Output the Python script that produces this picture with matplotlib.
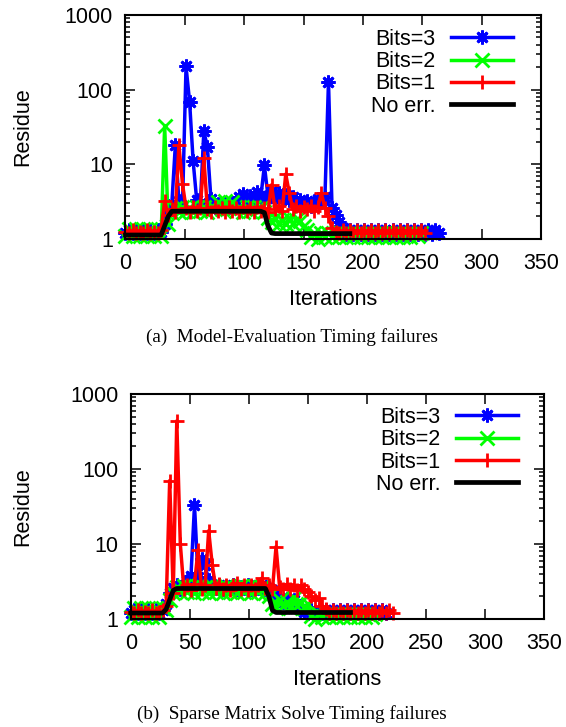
import numpy as np
import matplotlib.pyplot as plt
from matplotlib.ticker import FixedLocator, LogLocator, NullFormatter

plt.rcParams['font.family'] = ['Liberation Sans', 'DejaVu Sans']

# residue logged every `step` iterations
step = 3

labels = ['Bits=3', 'Bits=2', 'Bits=1', 'No err.']
colors = ['#0000ff', '#00ff00', '#ff0000', '#000000']
markers = [(8, 2, 0), 'x', '+', None]

x_ticks = [0, 50, 100, 150, 200, 250, 300, 350]
y_ticks = [1, 10, 100, 1000]
y_tick_labels = ['1', '10', '100', '1000']

# (a) Model-Evaluation timing failures
a_bits3 = [1.2, 1.3, 1.2, 1.3, 1.2, 1.3, 1.2, 1.3, 1.2, 1.3, 1.25,
           1.6, 2.4, 2.9, 18, 3.2, 2.7, 205, 69, 11, 3.3,
           2.8, 28, 17, 3.4, 2.7, 2.9, 2.6, 3.0, 2.7, 2.9,
           3.2, 3.6, 4.0, 3.3, 3.8, 3.5, 4.2, 3.6, 9.7, 3.8,
           4.4, 3.5, 4.1, 3.4, 3.9, 3.3, 3.7, 3.0, 3.3, 2.9,
           3.2, 2.8, 3.0, 3.4, 3.1, 3.6, 128, 2.6, 2.1, 1.7,
           1.4, 1.15, 1.3, 1.15, 1.3, 1.15, 1.3, 1.15, 1.3, 1.15,
           1.3, 1.15, 1.3, 1.15, 1.3, 1.15, 1.3, 1.15, 1.3, 1.15,
           1.3, 1.15, 1.3, 1.15, 1.3, 1.15, 1.3, 1.2]
a_bits2 = [1.1, 1.35, 1.1, 1.35, 1.1, 1.35, 1.1, 1.35, 1.1, 1.35, 1.1,
           32.6, 1.6, 2.2, 2.6, 2.3, 2.7, 2.4, 2.6, 2.3, 2.7,
           2.4, 2.7, 2.3, 2.7, 2.5, 3.1, 2.5, 3.2, 2.6, 3.1,
           2.4, 2.7, 2.3, 2.7, 2.4, 2.7, 2.5, 2.6, 2.3, 1.9,
           1.7, 1.9, 1.6, 1.8, 1.6, 1.9, 1.6, 1.8, 1.75, 1.5,
           1.3, 1.05, 1.2, 1.0, 1.2, 1.05, 1.2, 1.05, 1.2, 1.05,
           1.2, 1.05, 1.2, 1.05, 1.2, 1.05, 1.2, 1.05, 1.2, 1.05,
           1.2, 1.05, 1.2, 1.05, 1.2, 1.05, 1.2, 1.05, 1.2, 1.05,
           1.2, 1.1, 1.2]
a_bits1 = [1.25, 1.2, 1.3, 1.2, 1.25, 1.2, 1.3, 1.2, 1.25, 1.2, 1.3,
           3.2, 2.1, 2.5, 2.3, 18, 5.5, 2.6, 2.3, 2.7, 2.4,
           2.6, 12, 2.5, 2.3, 2.7, 2.4, 2.6, 2.3, 2.7, 2.4,
           2.6, 2.3, 2.7, 2.4, 2.6, 2.3, 2.7, 2.4, 2.6, 2.3,
           5.3, 2.5, 2.8, 2.4, 7.4, 4.1, 2.5, 2.8, 2.4, 2.7,
           2.5, 2.8, 2.4, 2.7, 4.1, 2.6, 2.0, 1.4, 1.25, 1.2,
           1.3, 1.2, 1.3, 1.2, 1.3, 1.2, 1.3, 1.2, 1.3, 1.2,
           1.3, 1.2, 1.3, 1.2, 1.3, 1.2, 1.3, 1.2, 1.3, 1.2,
           1.3, 1.2, 1.3, 1.2]
a_noerr = [1.13, 1.13, 1.13, 1.13, 1.13, 1.13, 1.13, 1.13, 1.13, 1.13, 1.13,
           1.5, 2.0, 2.35, 2.35, 2.35, 2.35, 2.35, 2.35, 2.35, 2.35,
           2.35, 2.35, 2.35, 2.35, 2.35, 2.35, 2.35, 2.35, 2.35, 2.35,
           2.35, 2.35, 2.35, 2.35, 2.35, 2.35, 2.35, 2.35, 2.25, 1.5,
           1.2, 1.18, 1.18, 1.18, 1.18, 1.18, 1.18, 1.18, 1.18, 1.18,
           1.18, 1.18, 1.18, 1.18, 1.18, 1.18, 1.18, 1.18, 1.18, 1.18,
           1.18, 1.18, 1.18]

# (b) Sparse Matrix Solve timing failures
b_bits3 = [1.2, 1.3, 1.2, 1.3, 1.2, 1.3, 1.2, 1.3, 1.2, 1.3,
           1.6, 2.2, 2.6, 2.8, 2.5, 2.7, 3.2, 3.7, 33, 3.6,
           6.4, 5.2, 3.3, 2.7, 2.6, 2.8, 2.5, 2.7, 2.6, 2.8,
           2.5, 2.7, 2.6, 2.8, 2.5, 2.7, 2.6, 2.8, 2.5, 2.6,
           2.4, 2.1, 1.9, 1.7, 1.85, 1.6, 1.8, 1.5, 1.35, 1.25,
           1.2, 1.3, 1.2, 1.3, 1.2, 1.3, 1.2, 1.3, 1.2, 1.3,
           1.2, 1.3, 1.2, 1.3, 1.2, 1.3, 1.2, 1.3, 1.2, 1.3,
           1.2, 1.3, 1.2]
b_bits2 = [1.05, 1.4, 1.05, 1.4, 1.05, 1.4, 1.05, 1.4, 1.05, 1.4,
           1.3, 1.8, 2.2, 2.7, 2.3, 2.75, 2.3, 2.7, 2.25, 2.75,
           2.3, 2.7, 2.25, 2.75, 2.3, 2.7, 2.25, 2.75, 2.3, 2.7,
           2.25, 2.75, 2.3, 2.7, 2.25, 2.75, 2.3, 2.7, 2.25, 2.0,
           1.6, 1.4, 1.8, 1.5, 1.7, 1.4, 1.9, 1.5, 1.7, 1.4,
           1.6, 1.1, 1.0, 1.15, 1.05, 1.15, 1.05, 1.15, 1.05, 1.15,
           1.05, 1.15, 1.05, 1.15, 1.05, 1.15, 1.05, 1.15, 1.05, 1.15]
b_bits1 = [1.25, 1.2, 1.3, 1.2, 1.25, 1.2, 1.3, 1.2, 1.25, 1.3,
           1.5, 70, 2.2, 437, 10, 2.5, 2.8, 2.4, 2.9, 8.4,
           2.5, 2.8, 15, 5.3, 2.6, 2.9, 2.5, 2.8, 2.4, 2.8,
           3.0, 2.5, 2.8, 2.4, 2.8, 2.5, 2.8, 3.5, 2.6, 2.8,
           2.5, 9.2, 2.7, 2.5, 2.9, 2.5, 2.8, 2.4, 2.8, 2.5,
           2.3, 2.0, 1.8, 1.9, 1.5, 1.35, 1.2, 1.3, 1.2, 1.3,
           1.2, 1.3, 1.2, 1.3, 1.2, 1.3, 1.2, 1.3, 1.2, 1.3,
           1.2, 1.3, 1.2, 1.3, 1.2]
b_noerr = [1.2, 1.2, 1.2, 1.2, 1.2, 1.2, 1.2, 1.2, 1.2, 1.2,
           1.35, 1.8, 2.4, 2.55, 2.55, 2.55, 2.55, 2.55, 2.55, 2.55,
           2.55, 2.55, 2.55, 2.55, 2.55, 2.55, 2.55, 2.55, 2.55, 2.55,
           2.55, 2.55, 2.55, 2.55, 2.55, 2.55, 2.55, 2.55, 2.55, 2.0,
           1.3, 1.22, 1.22, 1.22, 1.22, 1.22, 1.22, 1.22, 1.22, 1.22,
           1.22, 1.22, 1.22, 1.22, 1.22, 1.22, 1.22, 1.22, 1.22, 1.22,
           1.22, 1.22, 1.22]

panels = [
    ([a_bits3, a_bits2, a_bits1, a_noerr], '(a)  Model-Evaluation Timing failures'),
    ([b_bits3, b_bits2, b_bits1, b_noerr], '(b)  Sparse Matrix Solve Timing failures'),
]
# axes rectangles, caption heights
axes_rects = [[0.2217, 0.6713, 0.7341, 0.3081], [0.2309, 0.1486, 0.7307, 0.3095]]
caption_y = [0.537, 0.018]
legend_anchor = [(0.933, 0.938), (0.937, 0.942)]

fig = plt.figure(figsize=(5.66, 7.27), dpi=100)

for i, (series, caption) in enumerate(panels):
    ax = fig.add_axes(axes_rects[i])
    handles = []
    for vals, lab, col, mk in zip(series, labels, colors, markers):
        it = np.arange(len(vals)) * step
        if mk is None:
            h, = ax.plot(it, vals, color=col, lw=3.4, label=lab, clip_on=False)
        else:
            h, = ax.plot(it, vals, color=col, lw=2.5, marker=mk, ms=10, mew=2.0,
                         label=lab, clip_on=False)
        handles.append(h)

    ax.set_yscale('log')
    ax.set_xlim(0, 350)
    ax.set_ylim(1, 1000)
    ax.xaxis.set_major_locator(FixedLocator(x_ticks))
    ax.yaxis.set_major_locator(FixedLocator(y_ticks))
    ax.set_yticklabels(y_tick_labels)
    ax.yaxis.set_minor_locator(LogLocator(base=10, subs=np.arange(2, 10)))
    ax.yaxis.set_minor_formatter(NullFormatter())
    ax.tick_params(which='both', direction='in', top=True, right=True, labelsize=15.5)
    ax.tick_params(which='major', length=7, width=1.1)
    ax.tick_params(which='minor', length=3.5, width=1.1)
    ax.tick_params(axis='x', pad=10)
    ax.tick_params(axis='y', pad=9)
    for sp in ax.spines.values():
        sp.set_linewidth(1.5)

    ax.set_xlabel('Iterations', fontsize=15.5)
    ax.set_ylabel('Residue', fontsize=15.5)
    ax.xaxis.set_label_coords(0.5, -0.27)
    ax.xaxis.label.set_va('center')
    ax.yaxis.set_label_coords(-0.248 - 0.012 * i, 0.5)
    ax.yaxis.label.set_va('center')

    ax.legend(handles, labels, loc='upper right', bbox_to_anchor=legend_anchor[i],
              markerfirst=False, frameon=False, fontsize=15.5, handlelength=2.9,
              handletextpad=0.7, labelspacing=0.06, borderpad=0, borderaxespad=0)

    fig.text(0.516, caption_y[i], caption, ha='center', va='center',
             fontsize=13.8, family=['Liberation Serif', 'DejaVu Serif'])

fig.savefig('out.png', dpi=100)
